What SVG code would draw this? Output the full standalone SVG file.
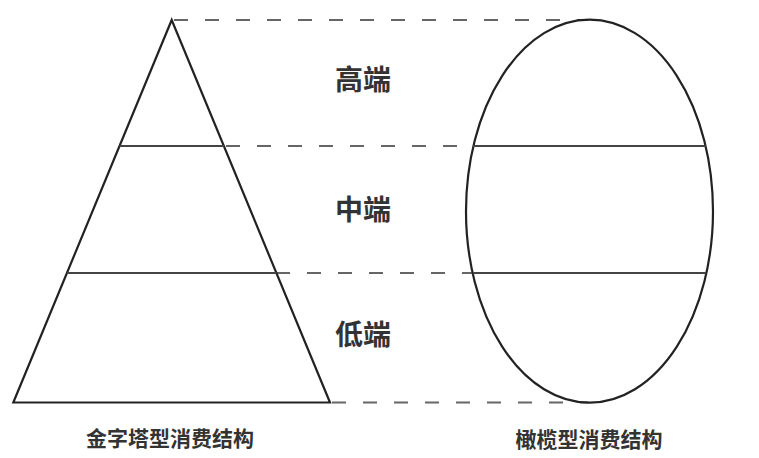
<svg xmlns="http://www.w3.org/2000/svg" width="759" height="458" viewBox="0 0 759 458">
<style>
.shape{fill:none;stroke:#222;stroke-width:2.2}
.band{stroke:#444;stroke-width:2}
.dash{stroke:#666;stroke-width:2;stroke-dasharray:14 17}
.lvl{font-family:"Noto Sans CJK SC","Noto Sans",sans-serif;font-size:28px;font-weight:700;fill:#333;text-anchor:middle}
.cap{font-family:"Noto Sans CJK SC","Noto Sans",sans-serif;font-size:21px;font-weight:700;fill:#333;text-anchor:middle}
</style>
<rect width="759" height="458" fill="#fff"/>
<g id="connectors">
<line class="dash" x1="174" y1="20" x2="588" y2="20"/>
<line class="dash" x1="226" y1="146" x2="473" y2="146"/>
<line class="dash" x1="276" y1="273" x2="473" y2="273"/>
<line class="dash" x1="332" y1="402.5" x2="588" y2="402.5"/>
</g>
<g id="pyramid">
<polygon class="shape" points="171.7,20 330,402.5 13.3,402.5"/>
<line class="band" x1="119.5" y1="146" x2="224" y2="146"/>
<line class="band" x1="67" y1="273" x2="276.5" y2="273"/>
<text class="cap" x="170" y="445.5">金字塔型消费结构</text>
</g>
<g id="olive">
<ellipse class="shape" cx="589.5" cy="211.2" rx="123.5" ry="191.5"/>
<line class="band" x1="473" y1="146" x2="706" y2="146"/>
<line class="band" x1="473" y1="273" x2="706" y2="273"/>
<text class="cap" x="589" y="447">橄榄型消费结构</text>
</g>
<g id="levels">
<text class="lvl" x="363" y="90">高端</text>
<text class="lvl" x="363" y="219.5">中端</text>
<text class="lvl" x="363" y="344.5">低端</text>
</g>
</svg>
